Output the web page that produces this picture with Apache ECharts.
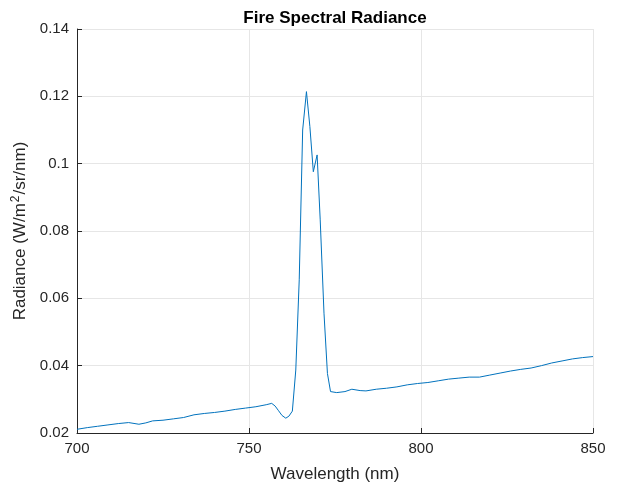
<!DOCTYPE html>
<html>
<head>
<meta charset="utf-8">
<script src="https://cdn.jsdelivr.net/npm/echarts@6/dist/echarts.min.js"></script>
<style>
  html, body { margin: 0; padding: 0; background: #fff; }
  #chart { width: 618px; height: 486px; }
</style>
</head>
<body>
<div id="chart"></div>
<script>
const wavelength = [700, 703, 706, 709, 712, 715, 718, 720, 722, 725, 728, 731, 734, 737, 740, 743, 746, 749, 752, 755,
  756.6, 757.6, 758.6, 759.6, 760.7, 761.6, 762.6, 763.6, 764.6, 765.6, 766.7, 767.7, 768.7, 769.8, 770.7, 771.8, 772.8, 773.7,
  775.5, 777.9, 779.9, 782.3, 784, 787, 790, 793, 796, 799, 802, 805, 808, 811, 814, 817, 820, 823, 826, 829, 832, 835, 838, 841, 844, 847, 850];
const radiance = [0.0211, 0.0216, 0.0220, 0.0224, 0.0228, 0.0231, 0.0226, 0.0230, 0.0236, 0.0238, 0.0242, 0.0246, 0.0254, 0.0258, 0.0261, 0.0265, 0.0270, 0.0274, 0.0278, 0.0284,
  0.0288, 0.0280, 0.0266, 0.0252, 0.0244, 0.0250, 0.0265, 0.0387, 0.0655, 0.1100, 0.1214, 0.1110, 0.0976, 0.1026, 0.0833, 0.0556, 0.0377, 0.0323,
  0.0320, 0.0323, 0.0330, 0.0326, 0.0325, 0.0330, 0.0333, 0.0337, 0.0343, 0.0347, 0.0350, 0.0355, 0.0360, 0.0363, 0.0366, 0.0366, 0.0372, 0.0378, 0.0384, 0.0389, 0.0393, 0.0400, 0.0408, 0.0414, 0.0420, 0.0424, 0.0427];

const chart = echarts.init(document.getElementById('chart'));
const font = 'Liberation Sans, Arial, sans-serif';

const option = {
  animation: false,
  title: {
    text: 'Fire Spectral Radiance',
    left: 330,
    top: 5,
    textAlign: 'center',
    textStyle: { fontFamily: font, fontSize: 17, fontWeight: 'bold', color: '#000' },
  },
  grid: { left: 77, right: 25, top: 29, bottom: 53, outerBoundsMode: 'none', containLabel: false },
  xAxis: {
    type: 'value',
    min: 700,
    max: 850,
    interval: 50,
    name: 'Wavelength (nm)',
    nameLocation: 'middle',
    nameGap: 33,
    nameTextStyle: { fontFamily: font, fontSize: 17, color: '#262626' },
    axisLine: { lineStyle: { color: '#262626', width: 1 } },
    axisTick: { inside: true, length: 5, lineStyle: { color: '#262626' } },
    axisLabel: { fontFamily: font, fontSize: 15, color: '#262626', margin: 8 },
    splitLine: { show: true, lineStyle: { color: '#e6e6e6', width: 1 } },
  },
  yAxis: {
    type: 'value',
    min: 0.02,
    max: 0.14,
    interval: 0.02,
    name: '{t|Radiance (W/m}{s|2}{t|/sr/nm)}',
    nameLocation: 'middle',
    nameGap: 39,
    nameRotate: 90,
    nameTextStyle: {
      rich: {
        t: { fontFamily: font, fontSize: 17, color: '#262626' },
        s: { fontFamily: font, fontSize: 12, color: '#262626', verticalAlign: 'top', padding: [0, 1, 9, 1] },
      },
    },
    axisLine: { show: true, lineStyle: { color: '#262626', width: 1 } },
    axisTick: { show: true, inside: true, length: 5, lineStyle: { color: '#262626' } },
    axisLabel: {
      fontFamily: font, fontSize: 15, color: '#262626', margin: 8,
      formatter: (v) => String(parseFloat(v.toFixed(2))),
    },
    splitLine: { show: true, lineStyle: { color: '#e6e6e6', width: 1 } },
  },
  series: [
    {
      type: 'line',
      data: wavelength.map((w, i) => [w, radiance[i]]),
      showSymbol: false,
      lineStyle: { color: '#0072BD', width: 1 },
      itemStyle: { color: '#0072BD' },
    },
  ],
};

chart.setOption(option);
</script>
</body>
</html>
